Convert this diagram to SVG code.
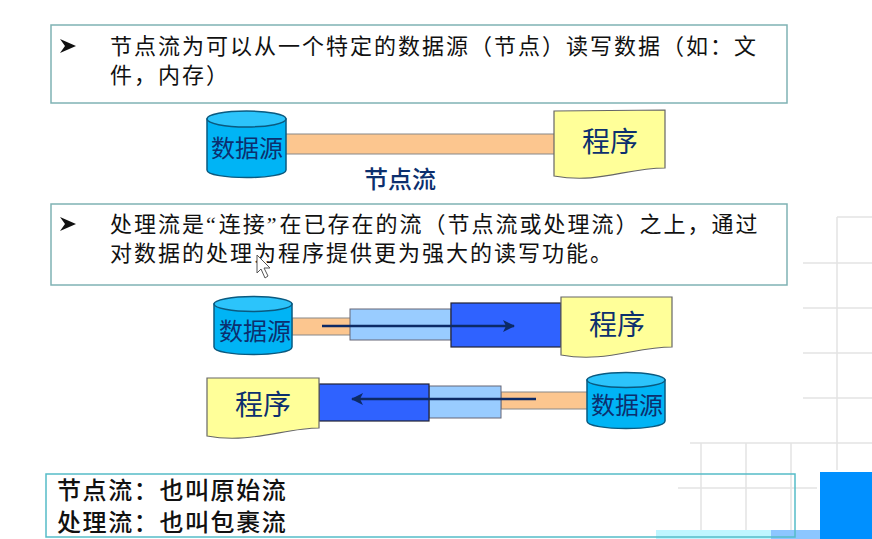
<svg xmlns="http://www.w3.org/2000/svg" width="872" height="539" viewBox="0 0 872 539">
<style>
.t{font-family:"Noto Sans CJK SC","Liberation Sans",sans-serif;fill:#111;font-size:22px;letter-spacing:2px}
.q{font-family:"Liberation Serif",serif;letter-spacing:3px}
.n{font-family:"Noto Sans CJK SC","Liberation Sans",sans-serif;fill:#111;font-size:24px;letter-spacing:1.600px;font-weight:500}
.b{font-family:"Noto Sans CJK SC","Liberation Sans",sans-serif;fill:#0c2f6e}
.box{fill:#fff;stroke:#7fb2b4;stroke-width:1.5}
.grid{stroke:#e4e4e4;stroke-width:1.5;fill:none}
.cyl{fill:#00b4f5;stroke:#0a5a80;stroke-width:1.5}
.top{fill:#2cc4fb;stroke:#0a5a80;stroke-width:1.5}
.doc{fill:#ffff99;stroke:#666;stroke-width:1.2}
.o{fill:#fcc68f;stroke:#888;stroke-width:1}
.l{fill:#99ccff;stroke:#667;stroke-width:1}
.d{fill:#2f62ff;stroke:#223;stroke-width:1.2}
.a{stroke:#0c2a66;stroke-width:2.500;fill:none;marker-end:url(#ah)}
</style>
<defs>
<marker id="ah" markerWidth="14" markerHeight="12" refX="11" refY="6" orient="auto" markerUnits="userSpaceOnUse"><path d="M0 0L12 6L0 12L3 6Z" fill="#0c2a66"/></marker>
<path id="bul" d="M0 0L16 7L0 14L5 7Z" fill="#111"/>
</defs>
<rect width="872" height="539" fill="#fff"/>
<g id="background">
<path class="grid" d="M837 217H872M803 263H872M803 308H872M803 353H872M803 398H872M837 217V470M690 443H872M701 443V530M746 443V530M791 443V530M678 488H817"/>
<rect x="820" y="472" width="52" height="67" fill="#0090ff"/>
<rect x="656" y="530" width="115" height="9" fill="#bff6ff"/>
<rect x="771" y="530" width="49" height="9" fill="#8cc6ff"/>
</g>
<g id="connectors">
<rect class="o" x="284" y="134" width="272" height="20"/>
<rect class="o" x="292" y="318" width="60" height="17"/>
<rect class="l" x="350" y="309" width="101" height="31"/>
<rect class="d" x="451" y="303" width="110" height="44"/>
<path class="a" d="M322 326H514"/>
<rect class="o" x="501" y="392" width="87" height="17"/>
<rect class="l" x="429" y="386" width="72" height="32"/>
<rect class="d" x="319" y="384" width="110" height="37"/>
<path class="a" d="M536 399H352"/>
</g>
<g id="note1"><rect class="box" x="51" y="25" width="736" height="78"/>
<use href="#bul" x="60" y="39"/>
<text class="t" x="110" y="54">节点流为可以从一个特定的数据源（节点）读写数据（如：文</text>
<text class="t" x="110" y="83">件，内存）</text></g>
<g id="source1"><path class="cyl" d="M207 119V170C207 180 286 180 286 170V119Z"/><ellipse class="top" cx="246.500" cy="119" rx="39.500" ry="8"/>
<text class="b" x="211" y="157" font-size="24">数据源</text></g>
<g id="program1"><path class="doc" d="M554 111L665 110V168C625 168 600 184 554 176Z"/>
<text class="b" x="582" y="152" font-size="28">程序</text></g>
<text id="label1" class="b" x="364" y="188" font-size="24" font-weight="500">节点流</text>
<g id="note2"><rect class="box" x="51" y="204" width="736" height="81"/>
<use href="#bul" x="60" y="217"/>
<text class="t" x="110" y="232">处理流是<tspan class="q">“</tspan>连接<tspan class="q">”</tspan>在已存在的流（节点流或处理流）之上，通过</text>
<text class="t" x="110" y="261">对数据的处理为程序提供更为强大的读写功能。</text></g>
<path id="cursor" d="M257 255V273L261 269L265 278L268 276L264 268L270 268Z" fill="#fff" stroke="#555" stroke-width="1"/>
<g id="source2"><path class="cyl" d="M214 304V347C214 357 292 357 292 347V304Z"/><ellipse class="top" cx="253" cy="304" rx="39" ry="7.500"/>
<text class="b" x="219" y="340" font-size="24">数据源</text></g>
<g id="program2"><path class="doc" d="M561 297L672 297V347C635 347 605 363 561 355Z"/>
<text class="b" x="589" y="335" font-size="28">程序</text></g>
<g id="program3"><path class="doc" d="M207 378L319 378V428C285 428 250 444 207 436Z"/>
<text class="b" x="235" y="415" font-size="28">程序</text></g>
<g id="source3"><path class="cyl" d="M587 380V421C587 431 665 431 665 421V380Z"/><ellipse class="top" cx="626" cy="380" rx="39" ry="7.500"/>
<text class="b" x="591" y="414" font-size="24">数据源</text></g>
<g id="note3"><rect x="46" y="474" width="749" height="63" fill="none" stroke="#55bcc8" stroke-width="1.5"/>
<text class="n" x="57" y="499">节点流：也叫原始流</text>
<text class="n" x="57" y="531">处理流：也叫包裹流</text></g>
</svg>
